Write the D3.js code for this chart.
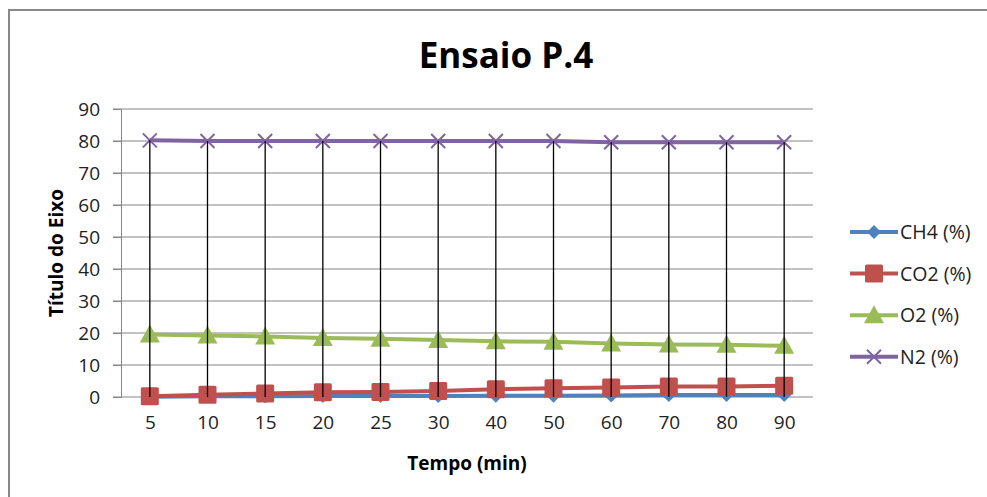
<!DOCTYPE html>
<html>
<head>
<meta charset="utf-8">
<script src="https://d3js.org/d3.v7.min.js"></script>
<style>
body { margin: 0; background: #fff; }
svg { display: block; font-family: "Open Sans", "Liberation Sans", sans-serif; }
</style>
</head>
<body>
<svg class="chart" width="987" height="497"></svg>
<script>

var tempos = ["5", "10", "15", "20", "25", "30", "40", "50", "60", "70", "80", "90"];
var ch4 = [0.1, 0.2, 0.2, 0.3, 0.3, 0.3, 0.4, 0.4, 0.5, 0.6, 0.6, 0.6];
var co2 = [0.2, 0.7, 1.1, 1.5, 1.6, 1.9, 2.4, 2.7, 3.0, 3.3, 3.3, 3.5];
var o2 = [19.5, 19.2, 18.9, 18.4, 18.2, 17.8, 17.4, 17.3, 16.7, 16.4, 16.3, 16.0];
var n2 = [80.2, 80.0, 80.0, 80.0, 80.0, 80.0, 80.0, 80.0, 79.6, 79.6, 79.6, 79.6];
var yTicks = [0, 10, 20, 30, 40, 50, 60, 70, 80, 90];

var series = [
  {name: "CH4 (%)", values: ch4, color: "#4F81BD", marker: "diamond"},
  {name: "CO2 (%)", values: co2, color: "#C0504D", marker: "square"},
  {name: "O2 (%)", values: o2, color: "#9BBB59", marker: "triangle"},
  {name: "N2 (%)", values: n2, color: "#8064A2", marker: "cross"}
];

var svg = d3.select(".chart");

// outer border of the chart area
svg.append("rect")
  .attr("x", 9).attr("y", 10)
  .attr("width", 1000).attr("height", 520)
  .attr("fill", "none")
  .attr("stroke", "#888")
  .attr("stroke-width", 2);

var plotLeft = 121, plotRight = 813, plotTop = 109, plotBottom = 397;

var x = d3.scalePoint().domain(tempos).range([plotLeft, plotRight]).padding(0.5);
var y = d3.scaleLinear().domain([0, 90]).range([plotBottom, plotTop]);

// gridlines
svg.selectAll(".grid").data(yTicks).enter()
  .append("line")
  .attr("class", "grid")
  .attr("x1", plotLeft - 8).attr("x2", plotRight)
  .attr("y1", function(d) { return y(d); })
  .attr("y2", function(d) { return y(d); })
  .attr("stroke", "#868686").attr("stroke-width", 1);

// y axis
var yAxis = svg.append("g")
  .attr("transform", "translate(" + plotLeft + ",0)")
  .call(d3.axisLeft(y).tickValues(yTicks).tickSize(8).tickPadding(13));
yAxis.select(".domain").attr("stroke", "#868686");
yAxis.selectAll(".tick line").attr("stroke", "#868686");
yAxis.selectAll("text").attr("font-size", 19).attr("fill", "#222")
  .attr("font-family", "Open Sans, sans-serif");

// x axis labels
var xAxis = svg.append("g")
  .attr("transform", "translate(0," + plotBottom + ")")
  .call(d3.axisBottom(x).tickSize(0).tickPadding(19));
xAxis.select(".domain").remove();
xAxis.selectAll("text").attr("font-size", 19).attr("fill", "#222")
  .attr("font-family", "Open Sans, sans-serif");

function drawMarker(g, type, color, cx, cy) {
  if (type == "diamond") {
    g.append("path")
      .attr("d", "M" + cx + "," + (cy - 7) + "L" + (cx + 7) + "," + cy + "L" + cx + "," + (cy + 7) + "L" + (cx - 7) + "," + cy + "Z")
      .attr("fill", color);
  } else if (type == "square") {
    g.append("rect")
      .attr("x", cx - 9).attr("y", cy - 9)
      .attr("width", 18).attr("height", 18)
      .attr("rx", 1.5)
      .attr("fill", color);
  } else if (type == "triangle") {
    g.append("path")
      .attr("d", "M" + cx + "," + (cy - 10) + "L" + (cx + 10) + "," + (cy + 8) + "L" + (cx - 10) + "," + (cy + 8) + "Z")
      .attr("fill", color);
  } else {
    g.append("path")
      .attr("d", "M" + (cx - 7) + "," + (cy - 7) + "L" + (cx + 7) + "," + (cy + 7) + "M" + (cx + 7) + "," + (cy - 7) + "L" + (cx - 7) + "," + (cy + 7))
      .attr("stroke", color).attr("stroke-width", 2).attr("fill", "none");
  }
}

var line = d3.line()
  .x(function(d, i) { return x(tempos[i]); })
  .y(function(d) { return y(d); });

series.forEach(function(s) {
  var g = svg.append("g");
  g.append("path")
    .attr("d", line(s.values))
    .attr("fill", "none")
    .attr("stroke", s.color)
    .attr("stroke-width", 4)
    .attr("stroke-linejoin", "round");
  s.values.forEach(function(v, i) {
    drawMarker(g, s.marker, s.color, x(tempos[i]), y(v));
  });
});

// drop lines from highest value to the category axis
svg.selectAll(".drop").data(tempos).enter()
  .append("line")
  .attr("class", "drop")
  .attr("x1", function(d) { return x(d); })
  .attr("x2", function(d) { return x(d); })
  .attr("y1", function(d, i) { return y(d3.max(series, function(s) { return s.values[i]; })); })
  .attr("y2", y(0))
  .attr("stroke", "#000").attr("stroke-width", 1.3);

// title
svg.append("text")
  .attr("x", 506).attr("y", 68)
  .attr("text-anchor", "middle")
  .attr("font-size", 35).attr("font-weight", "bold")
  .attr("fill", "#000")
  .text("Ensaio P.4");

svg.append("text")
  .attr("transform", "translate(63," + ((plotTop + plotBottom) / 2) + ") rotate(-90)")
  .attr("text-anchor", "middle")
  .attr("font-size", 19).attr("font-weight", "bold")
  .attr("fill", "#000")
  .text("Título do Eixo");

svg.append("text")
  .attr("x", (plotLeft + plotRight) / 2).attr("y", 470)
  .attr("text-anchor", "middle")
  .attr("font-size", 19).attr("font-weight", "bold")
  .attr("fill", "#000")
  .text("Tempo (min)");

// legend
var legend = svg.selectAll(".legend").data(series).enter()
  .append("g")
  .attr("class", "legend")
  .attr("transform", function(d, i) { return "translate(850," + (232 + i * 41.6) + ")"; });

legend.append("line")
  .attr("x1", 0).attr("x2", 48)
  .attr("y1", 0).attr("y2", 0)
  .attr("stroke", function(d) { return d.color; })
  .attr("stroke-width", 4);

legend.each(function(d) {
  drawMarker(d3.select(this), d.marker, d.color, 24, 0);
});

legend.append("text")
  .attr("x", 50).attr("y", 7)
  .attr("font-size", 19.5).attr("fill", "#222")
  .text(function(d) { return d.name; });

</script>
</body>
</html>
